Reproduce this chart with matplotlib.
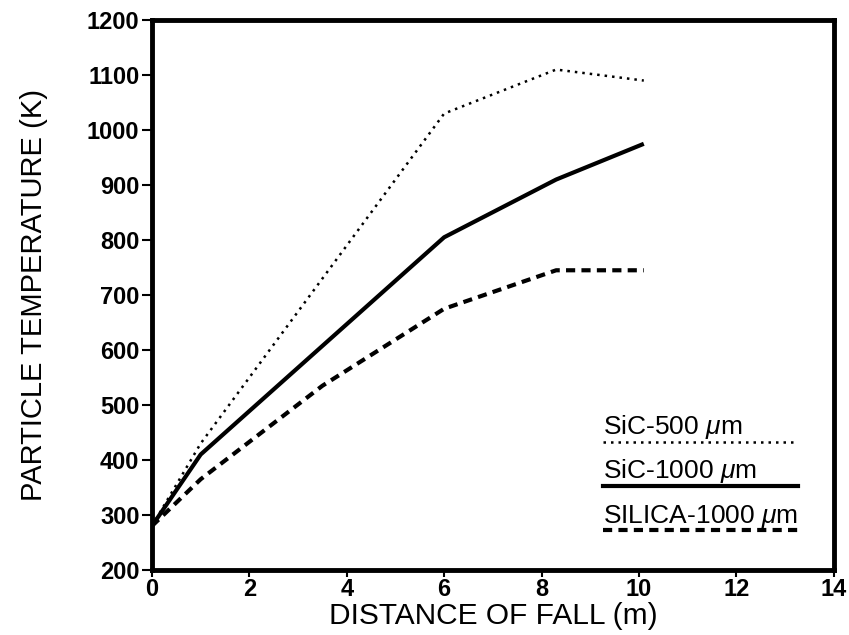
import numpy as np
import matplotlib
matplotlib.use('Agg')
import matplotlib.pyplot as plt
from matplotlib.lines import Line2D

plt.rcParams['font.family'] = ['Liberation Sans', 'DejaVu Sans']
plt.rcParams['mathtext.fontset'] = 'custom'
plt.rcParams['mathtext.rm'] = 'Liberation Sans'
plt.rcParams['mathtext.it'] = 'Liberation Sans:italic'

# data
sic500_x = [0, 1, 6, 8.3, 10.1]
sic500_y = [280, 430, 1030, 1110, 1090]

sic1000_x = [0, 1, 6, 8.3, 10.1]
sic1000_y = [280, 410, 805, 910, 975]

silica_x = [0, 1, 3.5, 6, 8.3, 10.1]
silica_y = [280, 365, 535, 675, 745, 745]

legend_labels = ['SiC-500 $\\mu$m', 'SiC-1000 $\\mu$m', 'SILICA-1000 $\\mu$m']

dotted = (0, (1, 2))
dashed = (0, (2.2, 1.5))

fig = plt.figure(figsize=(8.49, 6.35), dpi=100)
ax = fig.add_axes([0.179, 0.1024, 0.803, 0.866])

ax.plot(sic500_x, sic500_y, color='black', lw=1.8, linestyle=dotted)
ax.plot(sic1000_x, sic1000_y, color='black', lw=3.0, solid_capstyle='butt')
ax.plot(silica_x, silica_y, color='black', lw=3.0, linestyle=dashed)

ax.set_xlim(0, 14)
ax.set_ylim(200, 1200)
ax.set_xticks(np.arange(0, 15, 2))
ax.set_yticks(np.arange(200, 1201, 100))

for s in ax.spines.values():
    s.set_linewidth(3.5)
ax.tick_params(direction='out', width=1.5, labelsize=17)
ax.tick_params(axis='y', length=7, pad=2)
ax.tick_params(axis='x', length=5, pad=1)
for lbl in ax.get_xticklabels() + ax.get_yticklabels():
    lbl.set_fontweight('bold')

ax.set_xlabel('DISTANCE OF FALL (m)', fontsize=21.5)
ax.set_ylabel('PARTICLE TEMPERATURE (K)', fontsize=21)
ax.xaxis.set_label_coords(0.5, -0.058)
ax.yaxis.set_label_coords(-0.152, 0.5)

# hand-drawn style legend in the lower right
styles = [dict(lw=1.8, linestyle=dotted), dict(lw=3.0), dict(lw=3.0, linestyle=dashed)]
text_y = [0.247, 0.167, 0.085]
line_y = [0.232, 0.153, 0.072]
for lbl, st, ty, ly in zip(legend_labels, styles, text_y, line_y):
    ax.text(0.661, ty, lbl, transform=ax.transAxes, fontsize=19, va='baseline', ha='left')
    ax.add_line(Line2D([0.661, 0.947], [ly, ly], transform=ax.transAxes, color='black', **st))

plt.savefig('out.png', dpi=100)
